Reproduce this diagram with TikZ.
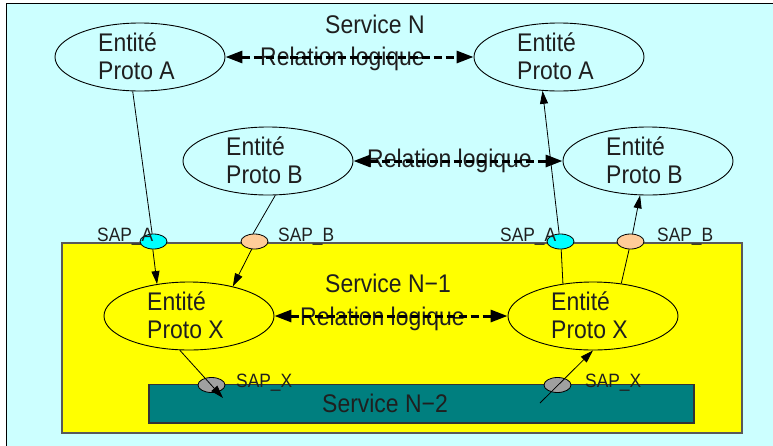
\documentclass[tikz,border=0pt]{standalone}
\usepackage{fontspec}
\setmainfont{Liberation Sans}[FakeStretch=0.9]
\usetikzlibrary{shapes.geometric,arrows.meta}
\definecolor{bgc}{HTML}{CCFFFF}
\definecolor{yel}{HTML}{FFFF00}
\definecolor{tealc}{HTML}{007F7F}
\definecolor{cyanc}{HTML}{00FFFF}
\definecolor{orangec}{HTML}{FFCC99}
\definecolor{grayc}{HTML}{A0A0A0}
\begin{document}
\begin{tikzpicture}[x=1pt,y=-1pt,
  every node/.style={inner sep=0pt, text=black!88},
  ent/.style={ellipse, draw=black, line width=0.9pt, minimum width=170pt, minimum height=68pt, inner sep=0pt},
  enttxt/.style={anchor=west, align=left, font=\fontsize{25.5}{28.3}\selectfont},
  big/.style={anchor=base west, font=\fontsize{25.5}{28.3}\selectfont},
  saplbl/.style={anchor=base west, font=\fontsize{19.3}{22}\selectfont},
  sap/.style={ellipse, draw=black, line width=0.8pt, minimum width=27pt, minimum height=15pt},
  conn/.style={line width=0.8pt, draw=black},
  arr/.style={conn, -{Triangle[length=13pt,width=8pt]}},
  rel/.style={line width=3pt, dash pattern=on 8pt off 4pt,
    {Triangle[length=17pt,width=12pt]}-{Triangle[length=17pt,width=12pt]}}
]
\useasboundingbox (0,0) rectangle (773,445);
% background
\fill[white] (0,0) rectangle (773,445);
\draw[line width=1.8pt, fill=bgc] (6.5,3.5) rectangle (800,470);
% service layers
\draw[line width=1.3pt, draw=black!65, fill=yel] (62,243) rectangle (742,433);
\draw[line width=1.1pt, draw=black!80, fill=tealc] (149,384.5) rectangle (694,423);

% entities
\node[ent, fill=bgc] (pa1) at (140,57) {};
\node[ent, fill=bgc] (pa2) at (559,57) {};
\node[ent, fill=bgc] (pb1) at (268,161) {};
\node[ent, fill=bgc] (pb2) at (648,161) {};
\node[ent, fill=yel] (px1) at (189,316) {};
\node[ent, fill=yel] (px2) at (593,316) {};

\node[enttxt] (pa1t) at (98,56.5) {Entité\\Proto A};
\node[enttxt] (pa2t) at (517,56.5) {Entité\\Proto A};
\node[enttxt] (pb1t) at (226,160.5) {Entité\\Proto B};
\node[enttxt] (pb2t) at (606,160.5) {Entité\\Proto B};
\node[enttxt] (px1t) at (147,315.5) {Entité\\Proto X};
\node[enttxt] (px2t) at (551,315.5) {Entité\\Proto X};

% service titles
\node[big] (sn) at (325,33) {Service N};
\node[big] (sn1) at (325,292) {Service N−1};
\node[big] (sn2) at (322,412) {Service N−2};

% SAPs
\node[sap, fill=cyanc] (sapa1) at (153.5,241.5) {};
\node[sap, fill=orangec] (sapb1) at (254.5,241.5) {};
\node[sap, fill=cyanc] (sapa2) at (560.5,241.5) {};
\node[sap, fill=orangec] (sapb2) at (630.5,241.5) {};
\node[sap, fill=grayc] (sapx1) at (211.5,385) {};
\node[sap, fill=grayc] (sapx2) at (557.5,385) {};

\node[saplbl] (la1) at (97,241) {SAP\_A};
\node[saplbl] (lb1) at (278,241) {SAP\_B};
\node[saplbl] (la2) at (500,241) {SAP\_A};
\node[saplbl] (lb2) at (657,241) {SAP\_B};
\node[saplbl] (lx1) at (236,387) {SAP\_X};
\node[saplbl] (lx2) at (585,387) {SAP\_X};

% relation labels
\node[big] (r1) at (260,65) {Relation logique};
\node[big] (r2) at (367,167.5) {Relation logique};
\node[big] (r3) at (300,325.5) {Relation logique};

% logical relations
\draw[rel] (pa1.east) -- (pa2.west);
\draw[rel] (pb1.east) -- (pb2.west);
\draw[rel] (px1.east) -- (px2.west);

% left side connectors
\draw[conn] (pa1.258) -- (sapa1.100);
\draw[arr] (sapa1.265) -- (px1.135);
\draw[conn] (pb1.282) -- (sapb1.100);
\draw[arr] (sapb1.250) -- (px1.34);

% right side connectors
\draw[arr] (sapa2.100) -- (pa2.244);
\draw[conn] (px2.133) -- (sapa2.275);
\draw[arr] (sapb2.75) -- (pb2.257);
\draw[conn] (px2.49) -- (sapb2.260);

% N-2 connectors
\coordinate (x1end) at (223,398);
\coordinate (x2start) at (540,403);
\draw[arr] (px1.255) -- (x1end);
\draw[arr] (x2start) -- (px2.south);
\end{tikzpicture}
\end{document}
